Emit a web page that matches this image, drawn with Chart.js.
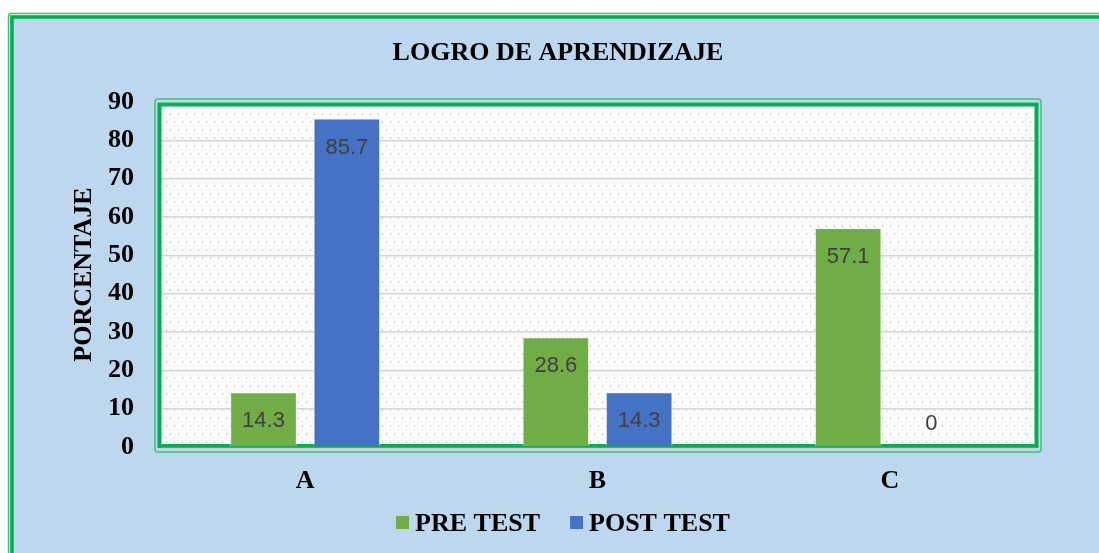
<!DOCTYPE html>
<html>
<head>
<meta charset="utf-8">
<script src="https://cdn.jsdelivr.net/npm/chart.js@4"></script>
<style>
  html, body { margin: 0; padding: 0; background: #ffffff; }
  canvas { display: block; }
</style>
</head>
<body>
<canvas id="logroChart" width="1099" height="553"></canvas>
<script>
const chartTitle = "LOGRO DE APRENDIZAJE";
const yAxisTitle = "PORCENTAJE";
const categories = ["A", "B", "C"];
const preTest = [14.3, 28.6, 57.1];
const postTest = [85.7, 14.3, 0];
const seriesNames = ["PRE TEST", "POST TEST"];
const yTicks = [0, 10, 20, 30, 40, 50, 60, 70, 80, 90];

const serif = "'Liberation Serif', 'Times New Roman', serif";

// dotted fill of the plot area
function makePattern(ctx) {
  const tile = document.createElement("canvas");
  tile.width = 16;
  tile.height = 16;
  const t = tile.getContext("2d");
  t.fillStyle = "#fdfdfd";
  t.fillRect(0, 0, 16, 16);
  t.fillStyle = "#c4c4c4";
  t.fillRect(2, 1, 1, 2);
  t.fillRect(10, 1, 1, 2);
  t.fillRect(6, 9, 1, 2);
  t.fillRect(14, 9, 1, 2);
  t.fillStyle = "#dedede";
  t.fillRect(6, 5, 1, 1);
  t.fillRect(14, 5, 1, 1);
  t.fillRect(2, 13, 1, 1);
  t.fillRect(10, 13, 1, 1);
  return ctx.createPattern(tile, "repeat");
}

function roundRect(ctx, x, y, w, h, r) {
  ctx.beginPath();
  ctx.moveTo(x + r, y);
  ctx.lineTo(x + w - r, y);
  ctx.quadraticCurveTo(x + w, y, x + w, y + r);
  ctx.lineTo(x + w, y + h - r);
  ctx.quadraticCurveTo(x + w, y + h, x + w - r, y + h);
  ctx.lineTo(x + r, y + h);
  ctx.quadraticCurveTo(x, y + h, x, y + h - r);
  ctx.lineTo(x, y + r);
  ctx.quadraticCurveTo(x, y, x + r, y);
  ctx.closePath();
}

const backgroundPlugin = {
  id: "background",
  beforeDraw(chart) {
    const { ctx, chartArea: a } = chart;
    ctx.save();
    ctx.fillStyle = "#ffffff";
    ctx.fillRect(0, 0, chart.width, chart.height);
    // outer frame
    ctx.fillStyle = "#bdd7ee";
    ctx.fillRect(10, 15, chart.width, chart.height);
    ctx.strokeStyle = "#3cc474";
    ctx.lineWidth = 1.5;
    roundRect(ctx, 8.5, 13.5, chart.width + 20, chart.height + 20, 3);
    ctx.stroke();
    ctx.strokeStyle = "#00b050";
    ctx.lineWidth = 3.5;
    ctx.strokeRect(12, 17, chart.width + 20, chart.height + 20);
    // plot area fill
    ctx.fillStyle = makePattern(ctx);
    ctx.fillRect(a.left, a.top, a.right - a.left, a.bottom - a.top);
    ctx.restore();
  },
  beforeDatasetsDraw(chart) {
    const { ctx, chartArea: a } = chart;
    ctx.save();
    ctx.strokeStyle = "#3cc474";
    ctx.lineWidth = 1.5;
    roundRect(ctx, a.left - 4, a.top - 3, a.right - a.left + 9, a.bottom - a.top + 8, 3);
    ctx.stroke();
    ctx.strokeStyle = "#00b050";
    ctx.lineWidth = 4;
    ctx.strokeRect(a.left + 0.5, a.top + 2.5, a.right - a.left, a.bottom - a.top - 3.5);
    ctx.strokeStyle = "#c8c8c8";
    ctx.lineWidth = 1.5;
    ctx.beginPath();
    ctx.moveTo(a.left + 2, a.bottom + 1.5);
    ctx.lineTo(a.right, a.bottom + 1.5);
    ctx.stroke();
    ctx.restore();
  },
  afterDatasetsDraw(chart) {
    const { ctx } = chart;
    const zeroY = chart.scales.y.getPixelForValue(0);
    ctx.save();
    ctx.fillStyle = "#404040";
    ctx.font = "22px 'Liberation Sans', Arial, sans-serif";
    ctx.textAlign = "center";
    ctx.textBaseline = "middle";
    chart.data.datasets.forEach((ds, i) => {
      chart.getDatasetMeta(i).data.forEach((bar, j) => {
        const y = bar.y + 29 < zeroY - 10 ? bar.y + 29 : zeroY - 23;
        ctx.fillText(String(ds.data[j]), bar.x, y);
      });
    });
    ctx.restore();
  },
  afterDraw(chart) {
    const { ctx } = chart;
    ctx.save();
    ctx.fillStyle = "#000000";
    ctx.font = "bold 26px " + serif;
    ctx.textBaseline = "middle";
    ctx.textAlign = "center";
    ctx.fillText(chartTitle, 558, 53);
    // legend
    const box = 13, gapBox = 6, gapItem = 30;
    const items = chart.data.datasets.map(ds => ({
      text: ds.label, color: ds.backgroundColor, w: ctx.measureText(ds.label).width
    }));
    let total = 0;
    items.forEach((it, k) => { total += box + gapBox + it.w + (k ? gapItem : 0); });
    let x = 563 - total / 2;
    const ly = 523;
    ctx.textAlign = "left";
    items.forEach(it => {
      ctx.fillStyle = it.color;
      ctx.fillRect(x, ly - 7, box, box);
      x += box + gapBox;
      ctx.fillStyle = "#000000";
      ctx.fillText(it.text, x, ly + 1);
      x += it.w + gapItem;
    });
    ctx.restore();
  }
};

const data = {
  labels: categories,
  datasets: [
    {
      label: seriesNames[0],
      data: preTest,
      backgroundColor: "#70ad47",
      borderColor: "rgba(235,245,230,0.6)",
      borderWidth: 1,
      categoryPercentage: 0.57,
      barPercentage: 0.8,
    },
    {
      label: seriesNames[1],
      data: postTest,
      backgroundColor: "#4472c4",
      borderColor: "rgba(225,232,245,0.6)",
      borderWidth: 1,
      categoryPercentage: 0.57,
      barPercentage: 0.8,
    },
  ],
};

const options = {
  responsive: false,
  animation: false,
  layout: { padding: { top: 102, right: 63, left: 0, bottom: 0 } },
  plugins: {
    legend: { display: false },
    title: { display: false },
    tooltip: { enabled: false },
  },
  scales: {
    x: {
      grid: { display: false },
      border: { display: false },
      ticks: {
        color: "#000000",
        padding: 11,
        font: { family: serif, size: 26, weight: "bold" },
      },
      afterFit(scale) { scale.height = 553 - 447; },
    },
    y: {
      min: 0,
      max: 90,
      afterBuildTicks(scale) { scale.ticks = yTicks.map(v => ({ value: v })); },
      grid: { color: "#d4d4d4", lineWidth: 1.5, drawTicks: false },
      border: { display: false },
      ticks: {
        color: "#000000",
        padding: 25,
        font: { family: serif, size: 26, weight: "bold" },
      },
      title: {
        display: true,
        text: yAxisTitle,
        color: "#000000",
        padding: { top: 69, bottom: 0 },
        font: { family: serif, size: 26, weight: "bold" },
      },
      afterFit(scale) { scale.width = 159; },
    },
  },
};

new Chart(document.getElementById("logroChart"), {
  type: "bar",
  data: data,
  options: options,
  plugins: [backgroundPlugin],
});
</script>
</body>
</html>
